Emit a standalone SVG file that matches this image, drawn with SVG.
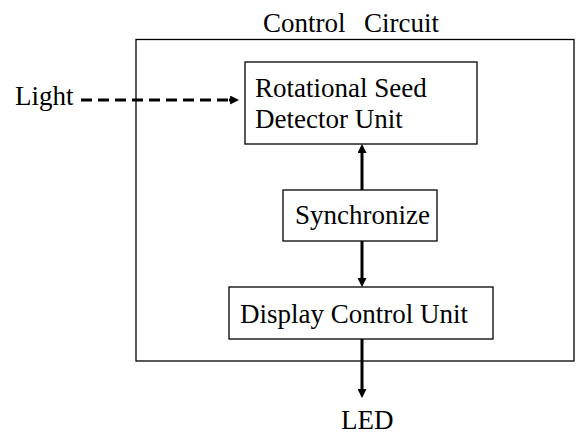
<svg xmlns="http://www.w3.org/2000/svg" width="576" height="435" viewBox="0 0 576 435">
<style>
.box{fill:#fff;stroke:#000;stroke-width:1.3}
.t{font-family:"Liberation Serif","Times New Roman",serif;font-size:27px;fill:#000}
.c{stroke:#000;stroke-width:3;fill:none}
</style>
<defs>
<marker id="ah" viewBox="0 0 10 10" refX="1" refY="5" markerWidth="3" markerHeight="3" orient="auto" markerUnits="strokeWidth">
<path d="M0,0 L10,5 L0,10 z" fill="#000"/>
</marker>
</defs>
<g id="control-circuit">
<rect x="136" y="39.5" width="438" height="321.5" fill="none" stroke="#000" stroke-width="1.3"/>
<text class="t" y="32"><tspan x="263">Control</tspan><tspan x="364">Circuit</tspan></text>
</g>
<g id="light"><text class="t" x="15" y="105">Light</text></g>
<g id="led"><text class="t" x="341" y="429">LED</text></g>
<g id="rsd">
<rect class="box" x="245" y="62" width="232" height="82"/>
<text class="t" x="255" y="97">Rotational Seed</text>
<text class="t" x="255" y="128">Detector Unit</text>
</g>
<g id="sync">
<rect class="box" x="283" y="190" width="154" height="51"/>
<text class="t" x="295" y="224">Synchronize</text>
</g>
<g id="dcu">
<rect class="box" x="229" y="287" width="264" height="52"/>
<text class="t" x="240" y="323">Display Control Unit</text>
</g>
<g id="connectors">
<line class="c" x1="81" y1="100" x2="229" y2="100" stroke-dasharray="11,6"/>
<line class="c" x1="229" y1="100" x2="231" y2="100" marker-end="url(#ah)"/>
<line class="c" x1="362" y1="190" x2="362" y2="152" marker-end="url(#ah)"/>
<line class="c" x1="362" y1="241" x2="362" y2="279" marker-end="url(#ah)"/>
<line class="c" x1="362" y1="339" x2="362" y2="390" marker-end="url(#ah)"/>
</g>
</svg>
